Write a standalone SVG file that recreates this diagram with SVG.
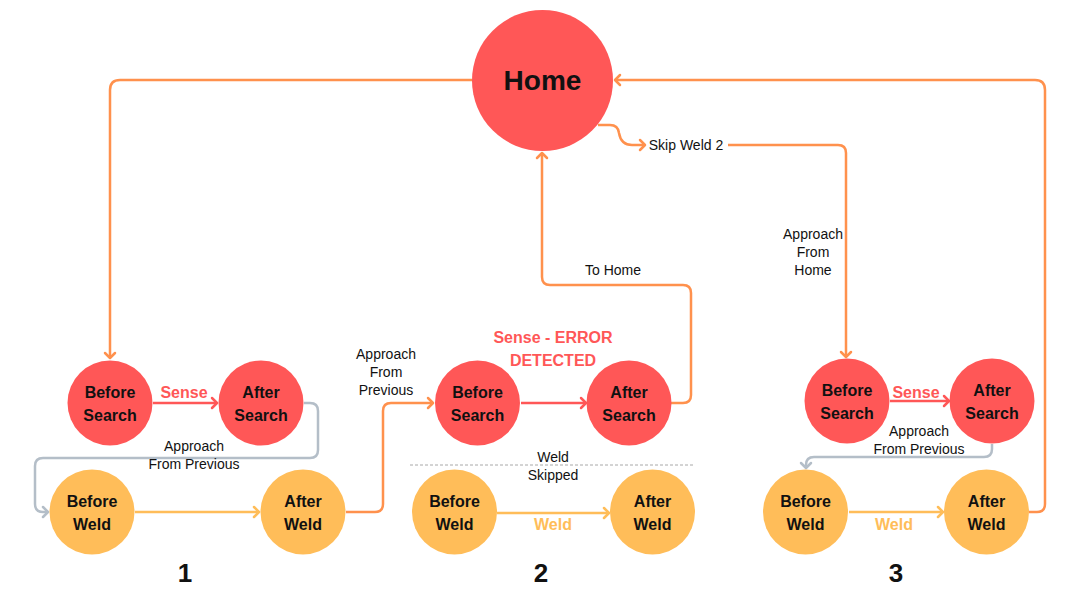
<svg xmlns="http://www.w3.org/2000/svg" width="1080" height="604" viewBox="0 0 1080 604">
<style>
.red{fill:#FF5757}
.yel{fill:#FFBD59}
.nt{font-family:"Liberation Sans",Arial,sans-serif;font-weight:bold;font-size:16px;fill:#111;text-anchor:middle}
.lb{font-family:"Liberation Sans",Arial,sans-serif;font-size:14px;fill:#111;text-anchor:middle}
.c{fill:none;stroke-width:2.5;stroke-linejoin:round}
.o{stroke:#FF914D}
.r{stroke:#FF5757}
.y{stroke:#FFBD59}
.g{stroke:#B4BEC8}
.num{font-family:"Liberation Sans",Arial,sans-serif;font-weight:bold;font-size:26px;fill:#111;text-anchor:middle}
</style>
<defs>
<marker id="ao" markerUnits="userSpaceOnUse" markerWidth="12" markerHeight="14" refX="7" refY="7" orient="auto"><path d="M2,2 L7,7 L2,12" fill="none" stroke="#FF914D" stroke-width="2.5" stroke-linecap="round" stroke-linejoin="round"/></marker>
<marker id="ar" markerUnits="userSpaceOnUse" markerWidth="12" markerHeight="14" refX="7" refY="7" orient="auto"><path d="M2,2 L7,7 L2,12" fill="none" stroke="#FF5757" stroke-width="2.5" stroke-linecap="round" stroke-linejoin="round"/></marker>
<marker id="ay" markerUnits="userSpaceOnUse" markerWidth="12" markerHeight="14" refX="7" refY="7" orient="auto"><path d="M2,2 L7,7 L2,12" fill="none" stroke="#FFBD59" stroke-width="2.5" stroke-linecap="round" stroke-linejoin="round"/></marker>
<marker id="ag" markerUnits="userSpaceOnUse" markerWidth="12" markerHeight="14" refX="7" refY="7" orient="auto"><path d="M2,2 L7,7 L2,12" fill="none" stroke="#B4BEC8" stroke-width="2.5" stroke-linecap="round" stroke-linejoin="round"/></marker>
</defs>
<rect width="1080" height="604" fill="#fff"/>

<g id="connectors">
<path class="c o" d="M472,80 H120 Q110,80 110,90 V358" marker-end="url(#ao)"/>
<path class="c o" d="M1029,512 H1037 Q1045,512 1045,504 V90 Q1045,80 1035,80 H615" marker-end="url(#ao)"/>
<path class="c o" d="M598,125 H610 Q618,125 619,133 Q621,145 632,145 H645" marker-end="url(#ao)"/>
<path class="c o" d="M728,145 H838 Q846,145 846,153 V357" marker-end="url(#ao)"/>
<path class="c o" d="M671,403 H683 Q691,403 691,395 V293 Q691,285 683,285 H550 Q542,285 542,277 V153" marker-end="url(#ao)"/>
<path class="c o" d="M346,512 H375 Q383,512 383,504 V411 Q383,403 391,403 H433" marker-end="url(#ao)"/>
<path class="c g" d="M304,403 H310 Q318,403 318,411 V450 Q318,458 310,458 H43 Q35,458 35,466 V504 Q35,512 43,512 H48" marker-end="url(#ag)"/>
<path class="c g" d="M992,444 V449 Q992,457 984,457 H814 Q806,457 806,465 V468" marker-end="url(#ag)"/>
<path class="c r" d="M153,403 H217" marker-end="url(#ar)"/>
<path class="c r" d="M521,403 H586" marker-end="url(#ar)"/>
<path class="c r" d="M890,401 H949" marker-end="url(#ar)"/>
<path class="c y" d="M135,512 H259" marker-end="url(#ay)"/>
<path class="c y" d="M497,513 H609" marker-end="url(#ay)"/>
<path class="c y" d="M849,512 H943" marker-end="url(#ay)"/>
<path d="M410,465 H693" stroke="#A8A8A8" stroke-width="1" stroke-dasharray="3,2" fill="none"/>
</g>

<g id="labels">
<text class="lb" x="686" y="150">Skip Weld 2</text>
<text class="lb" x="613" y="275">To Home</text>
<text class="lb"><tspan x="813" y="239">Approach</tspan><tspan x="813" y="257">From</tspan><tspan x="813" y="275">Home</tspan></text>
<text class="lb"><tspan x="386" y="359">Approach</tspan><tspan x="386" y="377">From</tspan><tspan x="386" y="395">Previous</tspan></text>
<text class="lb"><tspan x="194" y="451">Approach</tspan><tspan x="194" y="469">From Previous</tspan></text>
<text class="lb"><tspan x="919" y="436">Approach</tspan><tspan x="919" y="454">From Previous</tspan></text>
<text class="lb"><tspan x="553" y="462">Weld</tspan><tspan x="553" y="480">Skipped</tspan></text>
<text class="nt" x="184" y="398" style="fill:#FF5757">Sense</text>
<text class="nt" x="916" y="398" style="fill:#FF5757">Sense</text>
<text class="nt" style="fill:#FF5757"><tspan x="553" y="343">Sense - ERROR</tspan><tspan x="553" y="366">DETECTED</tspan></text>
<text class="nt" x="553" y="530" style="fill:#FFBD59">Weld</text>
<text class="nt" x="894" y="530" style="fill:#FFBD59">Weld</text>
<text class="num" x="185" y="582">1</text>
<text class="num" x="541" y="582">2</text>
<text class="num" x="896" y="582">3</text>
</g>

<g id="home"><circle class="red" cx="542.5" cy="80.5" r="70.5"/><text class="nt" x="542.5" y="90" style="font-size:28px">Home</text></g>

<g id="before-search-1"><circle class="red" cx="110" cy="403" r="42.5"/><text class="nt"><tspan x="110" y="398">Before</tspan><tspan x="110" y="421">Search</tspan></text></g>
<g id="after-search-1"><circle class="red" cx="261" cy="403" r="42.5"/><text class="nt"><tspan x="261" y="398">After</tspan><tspan x="261" y="421">Search</tspan></text></g>
<g id="before-weld-1"><circle class="yel" cx="92" cy="512" r="42.5"/><text class="nt"><tspan x="92" y="507">Before</tspan><tspan x="92" y="530">Weld</tspan></text></g>
<g id="after-weld-1"><circle class="yel" cx="303" cy="512" r="42.5"/><text class="nt"><tspan x="303" y="507">After</tspan><tspan x="303" y="530">Weld</tspan></text></g>

<g id="before-search-2"><circle class="red" cx="477.5" cy="403" r="42.5"/><text class="nt"><tspan x="477.5" y="398">Before</tspan><tspan x="477.5" y="421">Search</tspan></text></g>
<g id="after-search-2"><circle class="red" cx="629" cy="403" r="42.5"/><text class="nt"><tspan x="629" y="398">After</tspan><tspan x="629" y="421">Search</tspan></text></g>
<g id="before-weld-2"><circle class="yel" cx="454.5" cy="512" r="42.5"/><text class="nt"><tspan x="454.5" y="507">Before</tspan><tspan x="454.5" y="530">Weld</tspan></text></g>
<g id="after-weld-2"><circle class="yel" cx="652.5" cy="512" r="42.5"/><text class="nt"><tspan x="652.5" y="507">After</tspan><tspan x="652.5" y="530">Weld</tspan></text></g>

<g id="before-search-3"><circle class="red" cx="847" cy="401" r="42.5"/><text class="nt"><tspan x="847" y="396">Before</tspan><tspan x="847" y="419">Search</tspan></text></g>
<g id="after-search-3"><circle class="red" cx="992" cy="401" r="42.5"/><text class="nt"><tspan x="992" y="396">After</tspan><tspan x="992" y="419">Search</tspan></text></g>
<g id="before-weld-3"><circle class="yel" cx="805.5" cy="512" r="42.5"/><text class="nt"><tspan x="805.5" y="507">Before</tspan><tspan x="805.5" y="530">Weld</tspan></text></g>
<g id="after-weld-3"><circle class="yel" cx="986.5" cy="512" r="42.5"/><text class="nt"><tspan x="986.5" y="507">After</tspan><tspan x="986.5" y="530">Weld</tspan></text></g>
</svg>
